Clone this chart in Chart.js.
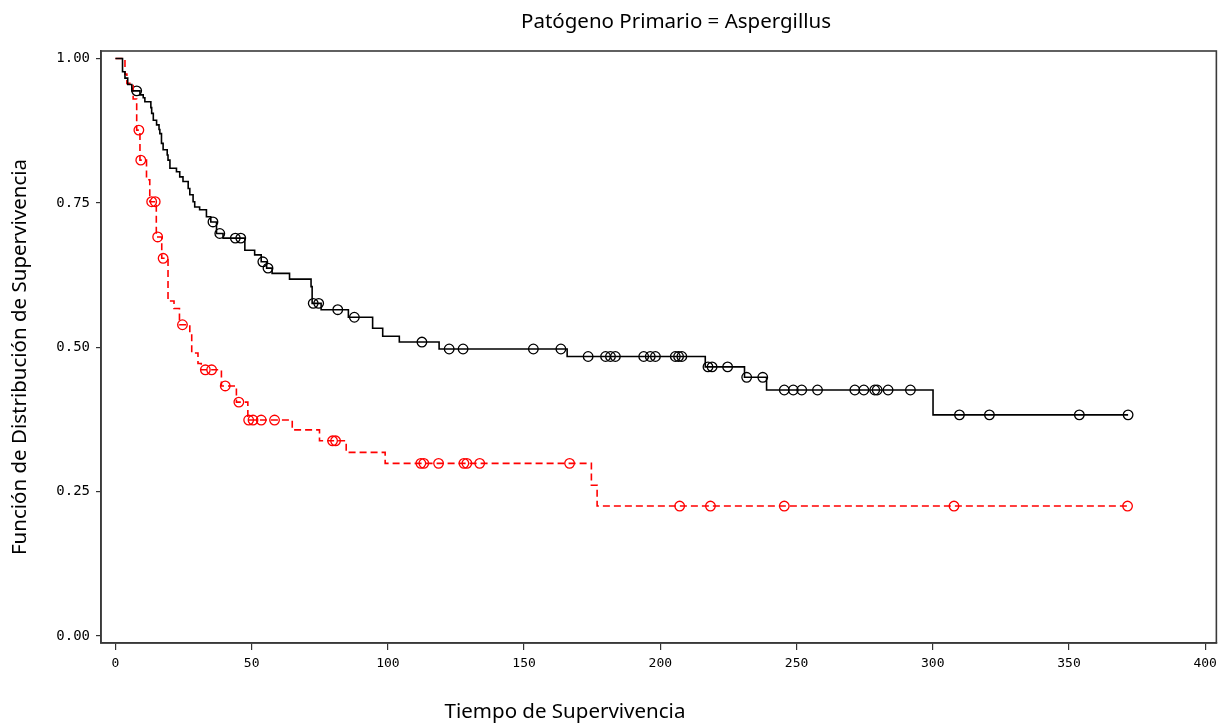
<!DOCTYPE html>
<html>
<head>
<meta charset="utf-8">
<script src="https://cdn.jsdelivr.net/npm/chart.js@4.4.0/dist/chart.umd.min.js"></script>
<style>
  html, body { margin: 0; padding: 0; background: #fff; }
  #wrap { width: 1223px; height: 724px; position: relative; }
</style>
</head>
<body>
<div id="wrap"><canvas id="c" width="1223" height="724"></canvas></div>
<script>
// ---- Data ----
const chartTitle = 'Patógeno Primario = Aspergillus';
const xTitle = 'Tiempo de Supervivencia';
const yTitle = 'Función de Distribución de Supervivencia';

const xTickValues = [0, 50, 100, 150, 200, 250, 300, 350, 400];
const xTickLabels = ['0', '50', '100', '150', '200', '250', '300', '350', '400'];
const yTickValues = [0, 0.25, 0.5, 0.75, 1];
const yTickLabels = ['0.00', '0.25', '0.50', '0.75', '1.00'];

// Black (solid) group: event times and survival after each event
const blackEventTimes = [0, 2.6, 3.5, 4.5, 6.0, 9.0, 10.2, 10.8, 13.0, 13.3, 13.9, 15.1, 16.0, 16.3, 16.9,
  17.5, 19.0, 19.3, 20.0, 22.4, 23.6, 24.8, 26.7, 27.3, 28.5, 29.1, 30.9, 33.4, 35.0, 37.1,
  39.5, 47.5, 51.1, 53.5, 55.5, 57.5, 63.9, 71.8, 72.2, 75.5, 85.5, 94.4, 98.1, 104.2, 118.8,
  165.8, 216.5, 230.9, 239.0, 300.1];
const blackSurv = [1.0, 0.977, 0.966, 0.955, 0.944, 0.937, 0.932, 0.925, 0.915, 0.905, 0.893, 0.885, 0.877, 0.870, 0.853,
  0.842, 0.833, 0.824, 0.810, 0.804, 0.795, 0.787, 0.775, 0.764, 0.752, 0.743, 0.738, 0.726, 0.717, 0.697,
  0.689, 0.668, 0.660, 0.648, 0.637, 0.628, 0.618, 0.605, 0.576, 0.565, 0.552, 0.533, 0.519, 0.509, 0.497,
  0.484, 0.466, 0.448, 0.426, 0.383];
const blackCensor = [7.8, 35.8, 38.3, 44.0, 46.0, 54.1, 56.0, 72.6, 74.6, 81.6, 87.7, 112.5, 122.5, 127.6,
  153.4, 163.5, 173.5, 179.9, 181.7, 183.5, 193.9, 196.3, 198.2, 205.5, 206.7, 207.9, 217.5, 219.0,
  224.7, 231.7, 237.6, 245.5, 248.8, 251.9, 257.7, 271.4, 274.7, 278.7, 279.6, 283.6, 291.8,
  309.8, 320.8, 353.8, 371.7];

// Red (dashed) group
const redEventTimes = [0, 3.5, 4.2, 6.5, 7.8, 9.0, 11.4, 12.6, 15.0, 17.0, 19.3, 21.5, 23.5, 27.3, 28.0,
  30.3, 31.5, 38.9, 44.4, 48.6, 64.9, 74.9, 84.7, 99.0, 174.7, 176.8];
const redSurv = [1.0, 0.973, 0.957, 0.930, 0.876, 0.824, 0.790, 0.752, 0.691, 0.654, 0.580, 0.567, 0.539, 0.525, 0.490,
  0.472, 0.461, 0.433, 0.405, 0.374, 0.357, 0.338, 0.318, 0.299, 0.261, 0.225];
const redCensor = [8.6, 9.3, 13.3, 14.6, 15.5, 17.5, 24.6, 33.0, 35.3, 40.3, 45.3, 48.9, 50.5, 53.5, 58.4,
  79.7, 80.8, 112.1, 113.2, 118.6, 127.9, 129.0, 133.7, 166.7, 207.1, 218.4, 245.5, 307.8, 371.5];

// ---- Helpers ----
function survAt(times, surv, t) {
  let s = surv[0];
  for (let i = 0; i < times.length; i++) { if (times[i] <= t) s = surv[i]; }
  return s;
}
function stepPoints(times, surv, censor) {
  const pts = times.map((t, i) => ({ x: t, y: surv[i] }));
  const last = Math.max(...censor);
  if (last > times[times.length - 1]) pts.push({ x: last, y: survAt(times, surv, last) });
  return pts;
}
function censorPoints(times, surv, censor) {
  return censor.map(t => ({ x: t, y: survAt(times, surv, t) }));
}

const BLACK = '#000000';
const RED = '#ff0000';

const frameAndTexts = {
  id: 'frameAndTexts',
  beforeDraw(chart) {
    const ctx = chart.ctx;
    ctx.save();
    ctx.fillStyle = '#ffffff';
    ctx.fillRect(0, 0, chart.width, chart.height);
    ctx.restore();
  },
  afterDraw(chart) {
    const ctx = chart.ctx;
    const a = chart.chartArea;
    ctx.save();
    ctx.strokeStyle = '#3a3a3a';
    ctx.lineWidth = 1.6;
    ctx.strokeRect(a.left, a.top, a.right - a.left, a.bottom - a.top);
    ctx.fillStyle = '#000';
    ctx.textAlign = 'center';
    ctx.textBaseline = 'middle';
    ctx.font = '20.5px "Noto Sans", "Open Sans", sans-serif';
    ctx.fillText(chartTitle, 676, 22);
    ctx.fillText(xTitle, 565, 712);
    ctx.translate(20, 357);
    ctx.rotate(-Math.PI / 2);
    ctx.fillText(yTitle, 0, 0);
    ctx.restore();
  }
};

new Chart(document.getElementById('c'), {
  type: 'line',
  data: {
    datasets: [
      {
        label: 'black',
        data: stepPoints(blackEventTimes, blackSurv, blackCensor),
        borderColor: BLACK, borderWidth: 1.6, stepped: 'before',
        pointRadius: 0, fill: false
      },
      {
        label: 'red',
        data: stepPoints(redEventTimes, redSurv, redCensor),
        borderColor: RED, borderWidth: 1.6, stepped: 'before', borderDash: [7, 4],
        pointRadius: 0, fill: false
      },
      {
        label: 'black censored',
        type: 'scatter',
        data: censorPoints(blackEventTimes, blackSurv, blackCensor),
        showLine: false, pointStyle: 'circle', pointRadius: 4.8,
        pointBorderColor: BLACK, pointBackgroundColor: 'rgba(0,0,0,0)', pointBorderWidth: 1.3
      },
      {
        label: 'red censored',
        type: 'scatter',
        data: censorPoints(redEventTimes, redSurv, redCensor),
        showLine: false, pointStyle: 'circle', pointRadius: 4.8,
        pointBorderColor: RED, pointBackgroundColor: 'rgba(0,0,0,0)', pointBorderWidth: 1.3
      }
    ]
  },
  options: {
    responsive: false,
    animation: false,
    events: [],
    layout: { padding: { top: 51, right: 4, left: 0, bottom: 0 } },
    plugins: { legend: { display: false }, tooltip: { enabled: false }, title: { display: false } },
    scales: {
      x: {
        type: 'linear', min: -5.3, max: 404.1,
        afterFit(scale) { scale.height = 81; },
        afterBuildTicks(scale) { scale.ticks = xTickValues.map(v => ({ value: v })); },
        ticks: {
          autoSkip: false, maxRotation: 0, padding: 6, color: '#000',
          font: { family: '"DejaVu Sans Mono", monospace', size: 13 },
          callback: (v) => { const i = xTickValues.indexOf(v); return i >= 0 ? xTickLabels[i] : ''; }
        },
        grid: { display: true, drawOnChartArea: false, drawTicks: true, tickLength: 7, color: '#333', lineWidth: 1.2 },
        border: { display: true, color: '#3a3a3a', width: 1.6 }
      },
      y: {
        type: 'linear', min: -0.0121, max: 1.013,
        afterFit(scale) { scale.width = 101; },
        afterBuildTicks(scale) { scale.ticks = yTickValues.map(v => ({ value: v })); },
        ticks: {
          autoSkip: false, padding: 6, color: '#000',
          font: { family: '"DejaVu Sans Mono", monospace', size: 14 },
          callback: (v) => { const i = yTickValues.indexOf(v); return i >= 0 ? yTickLabels[i] : ''; }
        },
        grid: { display: true, drawOnChartArea: false, drawTicks: true, tickLength: 5, color: '#333', lineWidth: 1.2 },
        border: { display: true, color: '#3a3a3a', width: 1.6 }
      }
    }
  },
  plugins: [frameAndTexts]
});
</script>
</body>
</html>
